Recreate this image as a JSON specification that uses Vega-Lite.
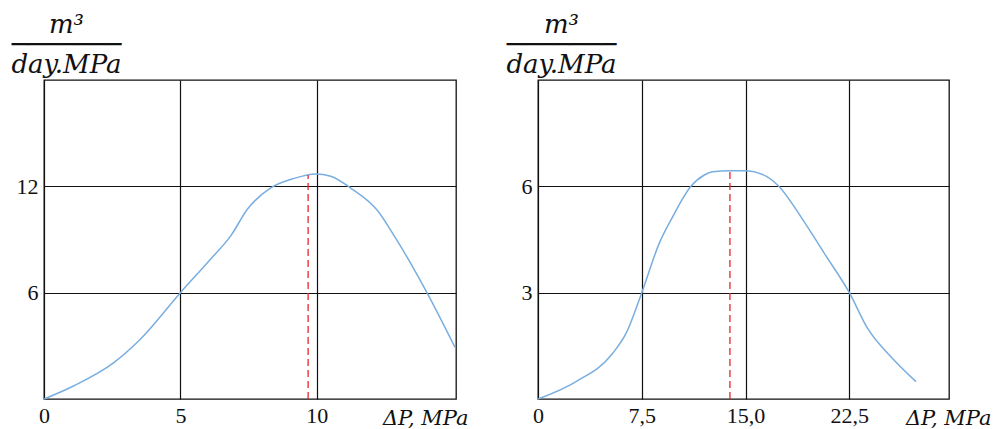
{
  "$schema": "https://vega.github.io/schema/vega-lite/v6.json",
  "background": "white",
  "padding": {"left": 10, "top": 10, "right": 0, "bottom": 0},
  "datasets": {
    "curve1": [
      {"dp": 0, "q": 0},
      {"dp": 1.1, "q": 0.75},
      {"dp": 2.57, "q": 2.07},
      {"dp": 3.54, "q": 3.39},
      {"dp": 5.0, "q": 6.0},
      {"dp": 6.11, "q": 7.9},
      {"dp": 6.85, "q": 9.22},
      {"dp": 7.46, "q": 10.72},
      {"dp": 8.31, "q": 11.91},
      {"dp": 9.17, "q": 12.45},
      {"dp": 9.96, "q": 12.7},
      {"dp": 10.51, "q": 12.57},
      {"dp": 11.25, "q": 11.89},
      {"dp": 12.23, "q": 10.62},
      {"dp": 12.83, "q": 9.22},
      {"dp": 14.06, "q": 5.93},
      {"dp": 15.06, "q": 2.92}
    ],
    "peak1": [{"dp": 9.68, "q0": 0, "q": 12.64}],
    "curve2": [
      {"dp": 0, "q": 0},
      {"dp": 2.75, "q": 0.49},
      {"dp": 5.4, "q": 1.29},
      {"dp": 6.36, "q": 1.85},
      {"dp": 7.5, "q": 3.0},
      {"dp": 8.76, "q": 4.39},
      {"dp": 9.73, "q": 5.14},
      {"dp": 11.05, "q": 6.0},
      {"dp": 12.02, "q": 6.32},
      {"dp": 12.62, "q": 6.41},
      {"dp": 13.87, "q": 6.44},
      {"dp": 14.91, "q": 6.44},
      {"dp": 16.47, "q": 6.29},
      {"dp": 17.43, "q": 5.99},
      {"dp": 19.0, "q": 5.14},
      {"dp": 20.69, "q": 4.11},
      {"dp": 22.5, "q": 3.0},
      {"dp": 23.82, "q": 1.99},
      {"dp": 25.5, "q": 1.19},
      {"dp": 27.31, "q": 0.49}
    ],
    "peak2": [{"dp": 13.87, "q0": 0, "q": 6.44}]
  },
  "bounds": "flush",
  "spacing": 82,
  "hconcat": [
    {
      "width": 412,
      "height": 319,
      "layer": [
        {
          "data": {"name": "curve1"},
          "mark": {"type": "line", "interpolate": "monotone", "color": "#79aee0", "strokeWidth": 1.5},
          "encoding": {
            "x": {
              "field": "dp", "type": "quantitative",
              "scale": {"domain": [0, 15.1], "nice": false, "zero": false},
              "axis": {"values": [0, 5, 10], "title": "ΔP, MPa", "titleX": 424, "titleY": 25}
            },
            "y": {
              "field": "q", "type": "quantitative",
              "scale": {"domain": [0, 18], "nice": false},
              "axis": {"values": [6, 12], "title": ["m³", "───────", "day.MPa"], "titleX": 22, "titleY": -48}
            }
          }
        },
        {
          "data": {"name": "peak1"},
          "mark": {"type": "rule", "color": "#e8262b", "strokeDash": [7, 4], "strokeWidth": 1.3},
          "encoding": {
            "x": {"field": "dp", "type": "quantitative"},
            "y": {"field": "q0", "type": "quantitative"},
            "y2": {"field": "q"}
          }
        }
      ]
    },
    {
      "width": 411,
      "height": 319,
      "layer": [
        {
          "data": {"name": "curve2"},
          "mark": {"type": "line", "interpolate": "monotone", "color": "#79aee0", "strokeWidth": 1.5},
          "encoding": {
            "x": {
              "field": "dp", "type": "quantitative",
              "scale": {"domain": [0, 29.7], "nice": false, "zero": false},
              "axis": {
                "values": [0, 7.5, 15, 22.5],
                "labelExpr": "datum.value == 0 ? '0' : replace(format(datum.value, '.1f'), '.', ',')",
                "title": "ΔP, MPa", "titleX": 453, "titleY": 25
              }
            },
            "y": {
              "field": "q", "type": "quantitative",
              "scale": {"domain": [0, 9], "nice": false},
              "axis": {"values": [3, 6], "title": ["m³", "───────", "day.MPa"], "titleX": 23, "titleY": -48}
            }
          }
        },
        {
          "data": {"name": "peak2"},
          "mark": {"type": "rule", "color": "#e8262b", "strokeDash": [7, 4], "strokeWidth": 1.3},
          "encoding": {
            "x": {"field": "dp", "type": "quantitative"},
            "y": {"field": "q0", "type": "quantitative"},
            "y2": {"field": "q"}
          }
        }
      ]
    }
  ],
  "config": {
    "view": {"stroke": "#111111", "strokeWidth": 1.3},
    "axis": {
      "grid": true,
      "gridColor": "#111111",
      "gridWidth": 1.2,
      "gridOpacity": 1,
      "domain": false,
      "ticks": false,
      "tickSize": 0,
      "labelFont": "Liberation Serif",
      "labelFontSize": 22,
      "labelColor": "#111111",
      "labelOverlap": false,
      "labelFlush": false,
      "titleFont": "DejaVu Serif",
      "titleFontStyle": "italic",
      "titleFontWeight": "normal",
      "titleColor": "#111111",
      "titleBaseline": "alphabetic"
    },
    "axisX": {
      "labelBaseline": "alphabetic",
      "labelPadding": 23,
      "titleAlign": "right",
      "titleFontSize": 21,
      "titleAngle": 0
    },
    "axisY": {
      "labelPadding": 6,
      "titleAngle": 0,
      "titleAlign": "center",
      "titleFontSize": 26,
      "titleLineHeight": 20
    }
  }
}
